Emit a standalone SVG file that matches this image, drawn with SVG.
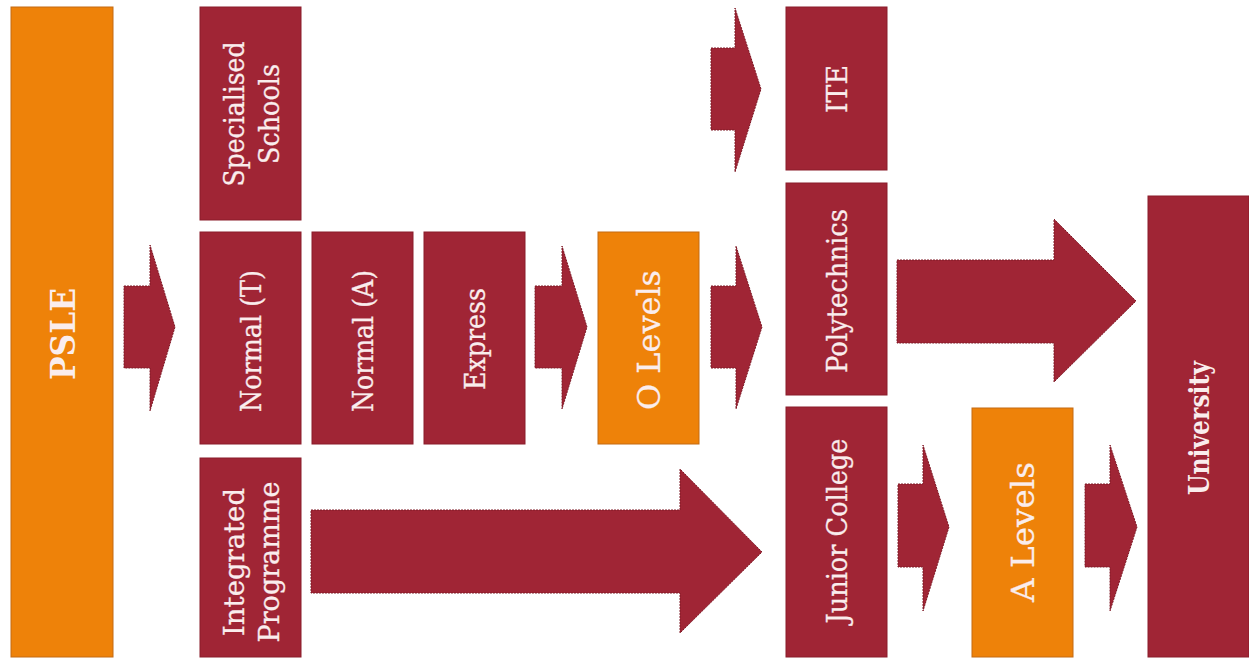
<svg xmlns="http://www.w3.org/2000/svg" width="1249" height="660" viewBox="0 0 1249 660">
<style>
.red{fill:#A02535;stroke:#8A1D2B;stroke-width:1}
.org{fill:#EE8209;stroke:#C46A12;stroke-width:1}
.arr{fill:#A02535;stroke:#7E1A27;stroke-width:1;stroke-dasharray:2 1}
.t{font-family:"DejaVu Serif","Liberation Serif",serif;fill:#FAEDED;text-anchor:middle;dominant-baseline:central;font-size:27px;stroke:#FAEDED;stroke-width:0.3}
.big{font-size:31px}
.b{font-weight:bold;stroke-width:0}
</style>
<rect width="1249" height="660" fill="#ffffff"/>
<g id="connectors">
<polygon class="arr" points="124,286 150,286 150,245 175,327 150,411 150,368 124,368"/>
<polygon class="arr" points="535,286 562,286 562,246 587,327 562,409 562,368 535,368"/>
<polygon class="arr" points="711,286 736,286 736,246 762,327 736,409 736,368 711,368"/>
<polygon class="arr" points="711,48 735,48 735,8 761,89 735,172 735,130 711,130"/>
<polygon class="arr" points="897,260 1054,260 1054,219 1136,301 1054,382 1054,343 897,343"/>
<polygon class="arr" points="311,510 680,510 680,469 762,552 680,633 680,593 311,593"/>
<polygon class="arr" points="898,484 923,484 923,445 949,527 923,611 923,567 898,567"/>
<polygon class="arr" points="1085,484 1110,484 1110,445 1137,527 1110,611 1110,567 1085,567"/>
</g>
<g id="pslebox">
<rect class="org" x="11" y="7" width="102" height="650"/>
<text class="t b" style="font-size:34px" textLength="92" lengthAdjust="spacingAndGlyphs" transform="translate(63,334) rotate(-90)">PSLE</text>
</g>
<g id="specialised">
<rect class="red" x="200" y="7" width="101" height="213"/>
<text class="t" transform="translate(250.5,114) rotate(-90)"><tspan x="0" y="-17" textLength="145" lengthAdjust="spacingAndGlyphs">Specialised</tspan><tspan x="0" y="18" textLength="100" lengthAdjust="spacingAndGlyphs">Schools</tspan></text>
</g>
<g id="normalt">
<rect class="red" x="200" y="232" width="101" height="212"/>
<text class="t" textLength="142" lengthAdjust="spacingAndGlyphs" transform="translate(251,341) rotate(-90)">Normal (T)</text>
</g>
<g id="normala">
<rect class="red" x="312" y="232" width="101" height="212"/>
<text class="t" textLength="142" lengthAdjust="spacingAndGlyphs" transform="translate(363,341) rotate(-90)">Normal (A)</text>
</g>
<g id="express">
<rect class="red" x="424" y="232" width="101" height="212"/>
<text class="t" textLength="102" lengthAdjust="spacingAndGlyphs" transform="translate(475,339) rotate(-90)">Express</text>
</g>
<g id="olevels">
<rect class="org" x="598" y="232" width="101" height="212"/>
<text class="t big" textLength="140" lengthAdjust="spacingAndGlyphs" transform="translate(649,340) rotate(-90)">O Levels</text>
</g>
<g id="integrated">
<rect class="red" x="200" y="458" width="101" height="199"/>
<text class="t" transform="translate(250.5,562) rotate(-90)"><tspan x="0" y="-17" textLength="148" lengthAdjust="spacingAndGlyphs">Integrated</tspan><tspan x="0" y="18" textLength="161" lengthAdjust="spacingAndGlyphs">Programme</tspan></text>
</g>
<g id="ite">
<rect class="red" x="786" y="7" width="101" height="163"/>
<text class="t" textLength="48" lengthAdjust="spacingAndGlyphs" transform="translate(837,89) rotate(-90)">ITE</text>
</g>
<g id="polytechnics">
<rect class="red" x="786" y="183" width="101" height="212"/>
<text class="t" textLength="164" lengthAdjust="spacingAndGlyphs" transform="translate(837,291) rotate(-90)">Polytechnics</text>
</g>
<g id="juniorcollege">
<rect class="red" x="786" y="407" width="101" height="250"/>
<text class="t" textLength="185" lengthAdjust="spacingAndGlyphs" transform="translate(837,531) rotate(-90)">Junior College</text>
</g>
<g id="alevels">
<rect class="org" x="972" y="408" width="101" height="249"/>
<text class="t big" textLength="140" lengthAdjust="spacingAndGlyphs" transform="translate(1023,532) rotate(-90)">A Levels</text>
</g>
<g id="university">
<rect class="red" x="1148" y="196" width="101" height="461"/>
<text class="t b" textLength="134" lengthAdjust="spacingAndGlyphs" transform="translate(1199,428) rotate(-90)">University</text>
</g>
</svg>
